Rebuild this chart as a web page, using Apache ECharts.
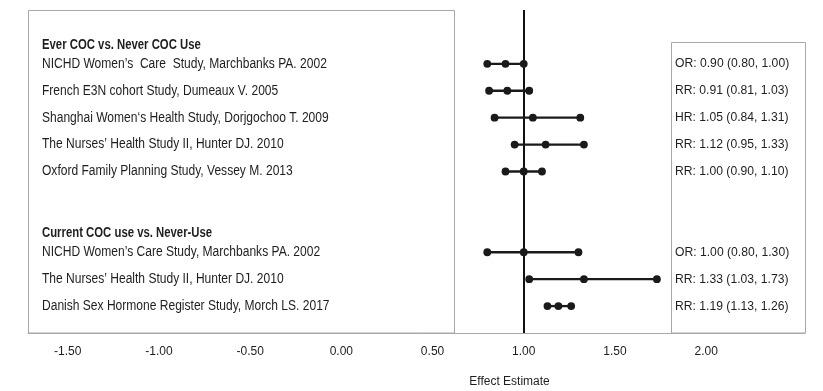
<!DOCTYPE html>
<html>
<head>
<meta charset="utf-8">
<script src="https://cdn.jsdelivr.net/npm/echarts@6/dist/echarts.min.js"></script>
<style>
html,body{margin:0;padding:0;background:#fff;}
#chart{width:823px;height:391px;}
</style>
</head>
<body>
<div id="chart"></div>
<script>
// ---- data ----
const groupTitles = ['Ever COC vs. Never COC Use', 'Current COC use vs. Never-Use'];
const studies = [
  "NICHD Women\u2019s  Care  Study, Marchbanks PA. 2002",
  "French E3N cohort Study, Dumeaux V. 2005",
  "Shanghai Women\u2018s Health Study, Dorjgochoo T. 2009",
  "The Nurses\u2019 Health Study II, Hunter DJ. 2010",
  "Oxford Family Planning Study, Vessey M. 2013",
  "NICHD Women\u2019s Care Study, Marchbanks PA. 2002",
  "The Nurses\u2019 Health Study II, Hunter DJ. 2010",
  "Danish Sex Hormone Register Study, Morch LS. 2017"
];
const studyGroup = [0, 0, 0, 0, 0, 1, 1, 1];
const measures  = ['OR', 'RR', 'HR', 'RR', 'RR', 'OR', 'RR', 'RR'];
const estimates = [0.90, 0.91, 1.05, 1.12, 1.00, 1.00, 1.33, 1.19];
const lowers    = [0.80, 0.81, 0.84, 0.95, 0.90, 0.80, 1.03, 1.13];
const uppers    = [1.00, 1.03, 1.31, 1.33, 1.10, 1.30, 1.73, 1.26];
const xTicks    = [-1.5, -1.0, -0.5, 0.0, 0.5, 1.0, 1.5, 2.0];
const nullValue = 1.0;
const xName = 'Effect Estimate';

// ---- layout of rows (categories) ----
const FONT = '"Liberation Sans",Arial,sans-serif';
const TXT = '#1e1e1e';
const categories = [];
const studyIndexToCat = [];
const groupFirstCat = [];
let pad = 0;
function addPad(n){ for (let i=0;i<n;i++){ categories.push('_pad'+(pad++)); } }
addPad(2);
groupTitles.forEach((t, g) => {
  if (g > 0) addPad(2);
  studies.forEach((s, i) => {
    if (studyGroup[i] !== g) return;
    if (groupFirstCat[g] === undefined) groupFirstCat[g] = categories.length;
    studyIndexToCat[i] = categories.length;
    categories.push(s);
  });
});
addPad(1);
const resultText = i => measures[i] + ': ' + estimates[i].toFixed(2) + ' (' + lowers[i].toFixed(2) + ', ' + uppers[i].toFixed(2) + ')';

const X_MIN = -1.718, X_MAX = 2.542;

const ciData = studies.map((s, i) => [lowers[i], estimates[i], uppers[i], studyIndexToCat[i]]);
const labelData = studies.map((s, i) => [X_MIN, studyIndexToCat[i], i]);
const headerData = groupTitles.map((t, g) => [X_MIN, groupFirstCat[g], g]);

function narrowText(x, y, text, font, sx){
  return {type: 'text', x: x, y: y, scaleX: sx, scaleY: 1,
    style: {text: text, fill: TXT, font: font, align: 'left', verticalAlign: 'middle'}};
}

const chart = echarts.init(document.getElementById('chart'), null, {renderer: 'canvas'});
chart.setOption({
  animation: false,
  backgroundColor: '#fff',
  grid: {left: 28, right: 18, top: 10, bottom: 58, containLabel: false},
  title: {
    text: xName, left: 504.5, top: 371, textAlign: 'center',
    textStyle: {fontFamily: FONT, fontSize: 12, fontWeight: 'normal', color: TXT}
  },
  xAxis: {
    type: 'value', min: X_MIN, max: X_MAX,
    splitLine: {show: false},
    axisTick: {show: false},
    axisLine: {show: true, onZero: false, lineStyle: {color: '#a8a8a8', width: 1}},
    axisLabel: {
      customValues: xTicks, margin: 13,
      formatter: v => v.toFixed(2),
      fontFamily: FONT, fontSize: 12, color: TXT
    }
  },
  yAxis: {
    type: 'category', data: categories, inverse: true, boundaryGap: false,
    axisLine: {show: false}, axisTick: {show: false}, splitLine: {show: false},
    axisLabel: {show: false}
  },
  graphic: [
    {type: 'rect', shape: {x: 28.5, y: 10.5, width: 426, height: 322.5}, style: {fill: 'none', stroke: '#a8a8a8', lineWidth: 1}, z: 0},
    {type: 'rect', shape: {x: 671.5, y: 42.5, width: 134, height: 290.5}, style: {fill: 'none', stroke: '#a8a8a8', lineWidth: 1}, z: 0}
  ],
  series: [
    {
      type: 'line', data: [], silent: true,
      markLine: {
        symbol: 'none', silent: true, label: {show: false},
        lineStyle: {color: '#111', width: 2, type: 'solid'},
        data: [{xAxis: nullValue}]
      }
    },
    {
      type: 'custom', data: ciData, encode: {x: [0, 1, 2], y: 3},
      renderItem: (params, api) => {
        const cat = api.value(3);
        const pL = api.coord([api.value(0), cat]);
        const pE = api.coord([api.value(1), cat]);
        const pU = api.coord([api.value(2), cat]);
        const col = '#1a1a1a';
        return {
          type: 'group', children: [
            {type: 'line', shape: {x1: pL[0], y1: pL[1], x2: pU[0], y2: pU[1]}, style: {stroke: col, lineWidth: 2.3}},
            {type: 'circle', shape: {cx: pL[0], cy: pL[1], r: 3.9}, style: {fill: col}},
            {type: 'circle', shape: {cx: pE[0], cy: pE[1], r: 3.9}, style: {fill: col}},
            {type: 'circle', shape: {cx: pU[0], cy: pU[1], r: 3.9}, style: {fill: col}}
          ]
        };
      },
      z: 5
    },
    {
      // study names (left panel) and effect texts (right panel)
      type: 'custom', data: labelData, encode: {x: 0, y: 1}, silent: true,
      renderItem: (params, api) => {
        const i = api.value(2);
        const p = api.coord([api.value(0), api.value(1)]);
        const right = params.coordSys.x + params.coordSys.width;
        return {
          type: 'group', children: [
            narrowText(p[0] + 14, p[1], studies[i], '14px ' + FONT, 0.86),
            narrowText(right - 130, p[1], resultText(i), '13px ' + FONT, 0.935)
          ]
        };
      }
    },
    {
      type: 'custom', data: headerData, encode: {x: 0, y: 1}, silent: true,
      renderItem: (params, api) => {
        const p = api.coord([api.value(0), api.value(1)]);
        return narrowText(p[0] + 14, p[1] - 19, groupTitles[api.value(2)], 'bold 14px ' + FONT, 0.81);
      }
    }
  ]
});
</script>
</body>
</html>
